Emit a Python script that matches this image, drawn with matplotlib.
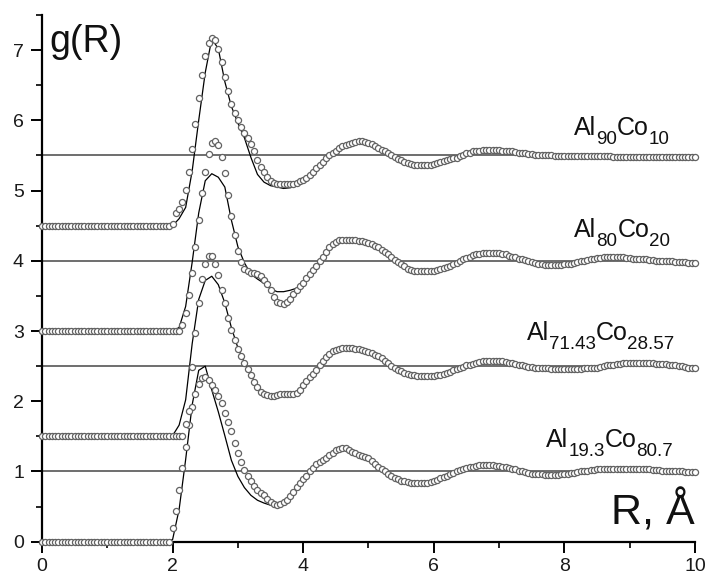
import numpy as np
import matplotlib
matplotlib.use("Agg")
import matplotlib.pyplot as plt
from matplotlib.ticker import MultipleLocator

plt.rcParams["font.family"] = ["Liberation Sans", "DejaVu Sans"]

# ---- data -------------------------------------------------------------
# composition labels: (element, subscript) pairs
alloys = [
    [("Al", "19.3"), ("Co", "80.7")],
    [("Al", "71.43"), ("Co", "28.57")],
    [("Al", "80"), ("Co", "20")],
    [("Al", "90"), ("Co", "10")],
]
offsets = [0.0, 1.5, 3.0, 4.5]

# experimental g(R), sampled every 0.05 A from 0 to 10 A
r_exp = np.round(np.arange(201) * 0.05, 2)
# model g(R), sampled every 0.1 A from 0 to 10 A
r_mod = np.round(np.arange(101) * 0.1, 1)

g_exp_al19 = [
    0.0, 0.0, 0.0, 0.0, 0.0, 0.0, 0.0, 0.0, 0.0, 0.0,
    0.0, 0.0, 0.0, 0.0, 0.0, 0.0, 0.0, 0.0, 0.0, 0.0,
    0.0, 0.0, 0.0, 0.0, 0.0, 0.0, 0.0, 0.0, 0.0, 0.0,
    0.0, 0.0, 0.0, 0.0, 0.0, 0.0, 0.0, 0.0, 0.0, 0.0,
    0.19, 0.43, 0.73, 1.05, 1.35, 1.66, 1.92, 2.11, 2.25, 2.33,
    2.35, 2.30, 2.23, 2.16, 2.07, 1.97, 1.83, 1.71, 1.57, 1.40,
    1.26, 1.13, 1.02, 0.93, 0.86, 0.79, 0.74, 0.70, 0.66, 0.61,
    0.57, 0.54, 0.52, 0.53, 0.56, 0.60, 0.65, 0.71, 0.78, 0.84,
    0.89, 0.94, 1.00, 1.05, 1.10, 1.13, 1.16, 1.19, 1.23, 1.27,
    1.30, 1.32, 1.33, 1.33, 1.31, 1.28, 1.26, 1.24, 1.22, 1.21,
    1.19, 1.15, 1.11, 1.07, 1.03, 1.00, 0.96, 0.93, 0.91, 0.89,
    0.87, 0.86, 0.85, 0.84, 0.83, 0.83, 0.83, 0.83, 0.84, 0.85,
    0.86, 0.88, 0.90, 0.92, 0.94, 0.96, 0.98, 1.00, 1.02, 1.04,
    1.05, 1.06, 1.07, 1.08, 1.09, 1.09, 1.09, 1.09, 1.09, 1.08,
    1.08, 1.07, 1.06, 1.05, 1.04, 1.03, 1.01, 1.00, 0.99, 0.98,
    0.97, 0.97, 0.96, 0.96, 0.95, 0.95, 0.95, 0.95, 0.95, 0.96,
    0.96, 0.97, 0.98, 0.98, 0.99, 1.00, 1.00, 1.01, 1.02, 1.02,
    1.03, 1.03, 1.03, 1.04, 1.04, 1.04, 1.04, 1.04, 1.04, 1.04,
    1.04, 1.04, 1.04, 1.04, 1.03, 1.03, 1.03, 1.02, 1.02, 1.02,
    1.01, 1.01, 1.01, 1.00, 1.00, 1.00, 1.00, 0.99, 0.99, 0.99,
    0.99,
]
g_exp_al71 = [
    0.0, 0.0, 0.0, 0.0, 0.0, 0.0, 0.0, 0.0, 0.0, 0.0,
    0.0, 0.0, 0.0, 0.0, 0.0, 0.0, 0.0, 0.0, 0.0, 0.0,
    0.0, 0.0, 0.0, 0.0, 0.0, 0.0, 0.0, 0.0, 0.0, 0.0,
    0.0, 0.0, 0.0, 0.0, 0.0, 0.0, 0.0, 0.0, 0.0, 0.0,
    0.0, 0.0, 0.0, 0.0, 0.18, 0.36, 0.99, 1.47, 1.90, 2.24,
    2.46, 2.57, 2.57, 2.46, 2.30, 2.09, 1.90, 1.68, 1.52, 1.37,
    1.25, 1.15, 1.05, 0.96, 0.87, 0.78, 0.70, 0.63, 0.60, 0.59,
    0.58, 0.58, 0.59, 0.60, 0.60, 0.61, 0.61, 0.61, 0.62, 0.66,
    0.73, 0.79, 0.84, 0.89, 0.95, 1.02, 1.08, 1.13, 1.17, 1.21,
    1.23, 1.25, 1.26, 1.26, 1.26, 1.26, 1.25, 1.24, 1.23, 1.21,
    1.20, 1.18, 1.16, 1.14, 1.11, 1.08, 1.04, 1.00, 0.97, 0.95,
    0.93, 0.90, 0.89, 0.88, 0.87, 0.86, 0.86, 0.86, 0.86, 0.86,
    0.86, 0.87, 0.88, 0.89, 0.90, 0.92, 0.94, 0.96, 0.97, 0.99,
    1.01, 1.02, 1.03, 1.05, 1.06, 1.07, 1.07, 1.08, 1.08, 1.08,
    1.08, 1.07, 1.06, 1.05, 1.04, 1.03, 1.02, 1.01, 1.00, 0.99,
    0.99, 0.98, 0.98, 0.97, 0.97, 0.97, 0.96, 0.96, 0.96, 0.96,
    0.96, 0.96, 0.96, 0.96, 0.96, 0.96, 0.97, 0.97, 0.97, 0.98,
    0.98, 0.99, 1.00, 1.01, 1.01, 1.02, 1.03, 1.03, 1.04, 1.04,
    1.04, 1.04, 1.04, 1.04, 1.04, 1.04, 1.04, 1.04, 1.03, 1.03,
    1.03, 1.03, 1.02, 1.02, 1.01, 1.00, 1.00, 0.99, 0.98, 0.98,
    0.97,
]
g_exp_al80 = [
    0.0, 0.0, 0.0, 0.0, 0.0, 0.0, 0.0, 0.0, 0.0, 0.0,
    0.0, 0.0, 0.0, 0.0, 0.0, 0.0, 0.0, 0.0, 0.0, 0.0,
    0.0, 0.0, 0.0, 0.0, 0.0, 0.0, 0.0, 0.0, 0.0, 0.0,
    0.0, 0.0, 0.0, 0.0, 0.0, 0.0, 0.0, 0.0, 0.0, 0.0,
    0.0, 0.0, 0.0, 0.09, 0.26, 0.51, 0.83, 1.20, 1.58, 1.96,
    2.26, 2.52, 2.68, 2.71, 2.65, 2.48, 2.25, 1.94, 1.64, 1.37,
    1.14, 0.98, 0.89, 0.85, 0.83, 0.82, 0.81, 0.78, 0.72, 0.67,
    0.58, 0.49, 0.42, 0.40, 0.39, 0.42, 0.46, 0.52, 0.58, 0.64,
    0.69, 0.76, 0.81, 0.87, 0.93, 1.00, 1.06, 1.13, 1.19, 1.24,
    1.27, 1.29, 1.30, 1.30, 1.30, 1.30, 1.29, 1.28, 1.28, 1.27,
    1.26, 1.24, 1.21, 1.19, 1.16, 1.13, 1.09, 1.05, 1.01, 0.98,
    0.95, 0.92, 0.89, 0.87, 0.86, 0.85, 0.85, 0.85, 0.85, 0.85,
    0.86, 0.87, 0.88, 0.90, 0.91, 0.93, 0.95, 0.97, 0.99, 1.02,
    1.04, 1.06, 1.08, 1.09, 1.10, 1.11, 1.11, 1.11, 1.11, 1.11,
    1.11, 1.10, 1.09, 1.07, 1.06, 1.05, 1.03, 1.02, 1.01, 0.99,
    0.98, 0.97, 0.96, 0.95, 0.94, 0.94, 0.94, 0.94, 0.94, 0.94,
    0.95, 0.96, 0.96, 0.97, 0.98, 0.99, 1.00, 1.01, 1.02, 1.03,
    1.04, 1.04, 1.05, 1.05, 1.05, 1.05, 1.05, 1.05, 1.05, 1.04,
    1.04, 1.03, 1.03, 1.02, 1.02, 1.02, 1.01, 1.01, 1.00, 1.00,
    1.00, 0.99, 0.99, 0.99, 0.98, 0.98, 0.98, 0.98, 0.97, 0.97,
    0.97,
]
g_exp_al90 = [
    0.0, 0.0, 0.0, 0.0, 0.0, 0.0, 0.0, 0.0, 0.0, 0.0,
    0.0, 0.0, 0.0, 0.0, 0.0, 0.0, 0.0, 0.0, 0.0, 0.0,
    0.0, 0.0, 0.0, 0.0, 0.0, 0.0, 0.0, 0.0, 0.0, 0.0,
    0.0, 0.0, 0.0, 0.0, 0.0, 0.0, 0.0, 0.0, 0.0, 0.0,
    0.02, 0.18, 0.24, 0.34, 0.51, 0.77, 1.09, 1.45, 1.82, 2.15,
    2.42, 2.60, 2.67, 2.65, 2.51, 2.33, 2.12, 1.92, 1.73, 1.60,
    1.50, 1.40, 1.32, 1.25, 1.17, 1.06, 0.94, 0.84, 0.76, 0.69,
    0.64, 0.61, 0.60, 0.60, 0.60, 0.60, 0.60, 0.60, 0.61, 0.63,
    0.65, 0.68, 0.72, 0.77, 0.82, 0.87, 0.91, 0.96, 1.01, 1.04,
    1.07, 1.10, 1.13, 1.15, 1.17, 1.18, 1.19, 1.20, 1.20, 1.19,
    1.18, 1.16, 1.14, 1.11, 1.08, 1.06, 1.03, 1.00, 0.98, 0.95,
    0.93, 0.91, 0.89, 0.88, 0.87, 0.87, 0.87, 0.87, 0.87, 0.87,
    0.88, 0.89, 0.90, 0.92, 0.93, 0.95, 0.96, 0.97, 0.99, 1.01,
    1.03, 1.04, 1.06, 1.07, 1.07, 1.08, 1.08, 1.08, 1.08, 1.08,
    1.08, 1.07, 1.07, 1.06, 1.06, 1.05, 1.04, 1.04, 1.03, 1.02,
    1.02, 1.01, 1.01, 1.00, 1.00, 1.00, 1.00, 0.99, 0.99, 0.99,
    0.99, 0.99, 0.99, 0.99, 0.99, 0.99, 0.99, 0.99, 0.99, 0.99,
    0.99, 0.99, 0.99, 0.99, 0.99, 0.98, 0.98, 0.98, 0.98, 0.98,
    0.98, 0.98, 0.98, 0.98, 0.98, 0.98, 0.98, 0.98, 0.98, 0.98,
    0.98, 0.98, 0.98, 0.98, 0.98, 0.98, 0.98, 0.98, 0.98, 0.98,
    0.98,
]

g_mod_al19 = [
    0.0, 0.0, 0.0, 0.0, 0.0, 0.0, 0.0, 0.0, 0.0, 0.0,
    0.0, 0.0, 0.0, 0.0, 0.0, 0.0, 0.0, 0.0, 0.0, 0.0,
    0.03, 0.46, 1.17, 1.95, 2.44, 2.50, 2.16, 1.85, 1.51, 1.16,
    0.93, 0.77, 0.66, 0.59, 0.55, 0.52, 0.52, 0.55, 0.63, 0.76,
    0.88, 0.98, 1.06, 1.14, 1.22, 1.28, 1.31, 1.30, 1.26, 1.22,
    1.18, 1.11, 1.03, 0.96, 0.91, 0.87, 0.85, 0.83, 0.83, 0.84,
    0.86, 0.91, 0.95, 0.99, 1.03, 1.05, 1.07, 1.09, 1.09, 1.09,
    1.08, 1.06, 1.04, 1.01, 0.99, 0.97, 0.96, 0.95, 0.95, 0.95,
    0.96, 0.98, 0.99, 1.00, 1.02, 1.03, 1.03, 1.04, 1.04, 1.04,
    1.04, 1.04, 1.03, 1.03, 1.02, 1.01, 1.01, 1.00, 1.00, 0.99,
    0.99,
]
g_mod_al71 = [
    0.0, 0.0, 0.0, 0.0, 0.0, 0.0, 0.0, 0.0, 0.0, 0.0,
    0.0, 0.0, 0.0, 0.0, 0.0, 0.0, 0.0, 0.0, 0.0, 0.0,
    0.01, 0.16, 0.52, 1.32, 1.95, 2.22, 2.28, 2.16, 1.90, 1.55,
    1.26, 1.05, 0.87, 0.71, 0.62, 0.59, 0.60, 0.61, 0.62, 0.63,
    0.72, 0.84, 0.95, 1.08, 1.17, 1.23, 1.26, 1.26, 1.25, 1.23,
    1.20, 1.16, 1.11, 1.04, 0.97, 0.92, 0.89, 0.87, 0.86, 0.86,
    0.86, 0.88, 0.91, 0.95, 0.98, 1.01, 1.04, 1.06, 1.07, 1.08,
    1.08, 1.06, 1.04, 1.02, 1.00, 0.99, 0.98, 0.97, 0.96, 0.96,
    0.96, 0.96, 0.96, 0.97, 0.97, 0.98, 1.00, 1.01, 1.03, 1.04,
    1.04, 1.04, 1.04, 1.04, 1.03, 1.03, 1.02, 1.01, 1.00, 0.98,
    0.97,
]
g_mod_al80 = [
    0.0, 0.0, 0.0, 0.0, 0.0, 0.0, 0.0, 0.0, 0.0, 0.0,
    0.0, 0.0, 0.0, 0.0, 0.0, 0.0, 0.0, 0.0, 0.0, 0.0,
    0.0, 0.05, 0.35, 0.98, 1.68, 2.14, 2.24, 2.19, 2.05, 1.58,
    1.20, 0.97, 0.81, 0.74, 0.68, 0.60, 0.56, 0.56, 0.58, 0.61,
    0.69, 0.81, 0.93, 1.06, 1.19, 1.27, 1.30, 1.30, 1.29, 1.28,
    1.26, 1.21, 1.16, 1.09, 1.01, 0.95, 0.89, 0.86, 0.85, 0.85,
    0.86, 0.88, 0.91, 0.95, 0.99, 1.04, 1.08, 1.10, 1.11, 1.11,
    1.11, 1.09, 1.06, 1.03, 1.01, 0.98, 0.96, 0.94, 0.94, 0.94,
    0.95, 0.96, 0.98, 1.00, 1.02, 1.04, 1.05, 1.05, 1.05, 1.05,
    1.04, 1.03, 1.02, 1.01, 1.00, 1.00, 0.99, 0.98, 0.98, 0.97,
    0.97,
]
g_mod_al90 = [
    0.0, 0.0, 0.0, 0.0, 0.0, 0.0, 0.0, 0.0, 0.0, 0.0,
    0.0, 0.0, 0.0, 0.0, 0.0, 0.0, 0.0, 0.0, 0.0, 0.0,
    0.0, 0.10, 0.26, 0.78, 1.50, 2.18, 2.66, 2.52, 2.05, 1.70,
    1.46, 1.25, 0.97, 0.73, 0.62, 0.57, 0.55, 0.53, 0.54, 0.57,
    0.61, 0.71, 0.82, 0.91, 1.01, 1.07, 1.13, 1.17, 1.19, 1.20,
    1.18, 1.14, 1.08, 1.02, 0.97, 0.93, 0.89, 0.87, 0.87, 0.87,
    0.88, 0.90, 0.93, 0.96, 0.99, 1.03, 1.06, 1.07, 1.08, 1.08,
    1.08, 1.07, 1.06, 1.04, 1.03, 1.02, 1.01, 1.00, 1.00, 0.99,
    0.99, 0.99, 0.99, 0.99, 0.99, 0.99, 0.99, 0.99, 0.98, 0.98,
    0.98, 0.98, 0.98, 0.98, 0.98, 0.98, 0.98, 0.98, 0.98, 0.98,
    0.98,
]

g_exp = [g_exp_al19, g_exp_al71, g_exp_al80, g_exp_al90]
g_mod = [g_mod_al19, g_mod_al71, g_mod_al80, g_mod_al90]

# left edge and baseline of each composition label, in data units
label_x = [7.72, 7.42, 8.15, 8.15]
label_y = [1.35, 2.87, 4.34, 5.79]

TEXT_COLOR = "#111111"


def formula_label(ax, x, y, pairs, size=18, sub_size=13.5, drop=6.5):
    """Chemical formula with element symbols and subscripted fractions."""
    prev = None
    for elem, frac in pairs:
        if prev is None:
            prev = ax.text(x, y, elem, fontsize=size, ha="left",
                           va="baseline", color=TEXT_COLOR)
        else:
            prev = ax.annotate(elem, xy=(1, y), xycoords=(prev, "data"),
                               xytext=(0, 0), textcoords="offset points",
                               fontsize=size, ha="left", va="baseline",
                               color=TEXT_COLOR)
        prev = ax.annotate(frac, xy=(1, y), xycoords=(prev, "data"),
                           xytext=(0, -drop), textcoords="offset points",
                           fontsize=sub_size, ha="left", va="baseline",
                           color=TEXT_COLOR)


# ---- figure -----------------------------------------------------------
fig = plt.figure(figsize=(7.07, 5.77), dpi=100)
ax = fig.add_axes([0.0594, 0.0612, 0.9236, 0.9128])

for k in range(4):
    off = offsets[k]
    ax.axhline(off + 1.0, color="#555555", lw=1.2, zorder=1)
    ax.plot(r_mod, np.asarray(g_mod[k]) + off, color="black", lw=0.9,
            zorder=2)
    ax.plot(r_exp, np.asarray(g_exp[k]) + off, ls="none", marker="o",
            ms=4.4, mew=0.9, mfc="white", mec="#626262", zorder=3,
            clip_on=False)
    formula_label(ax, label_x[k], label_y[k], alloys[k])

ax.text(0.12, 6.98, "g(R)", ha="left", va="baseline", fontsize=27,
        color=TEXT_COLOR)
ax.text(10.0, 0.24, "R, Å", ha="right", va="baseline", fontsize=31,
        color=TEXT_COLOR)

ax.set_xlim(0, 10)
ax.set_ylim(0, 7.5)
ax.xaxis.set_major_locator(MultipleLocator(2))
ax.xaxis.set_minor_locator(MultipleLocator(1))
ax.yaxis.set_major_locator(MultipleLocator(1))
ax.yaxis.set_minor_locator(MultipleLocator(0.5))
for side in ("top", "right"):
    ax.spines[side].set_visible(False)
for side in ("left", "bottom"):
    ax.spines[side].set_linewidth(1.6)
    ax.spines[side].set_zorder(2.5)
ax.tick_params(which="major", direction="out", length=8, width=1.4,
               labelsize=14, colors="black")
ax.tick_params(axis="x", which="major", pad=3.5)
ax.tick_params(axis="y", which="major", pad=5)
ax.tick_params(which="minor", direction="out", length=4, width=1.2)
for lab in ax.get_xticklabels() + ax.get_yticklabels():
    lab.set_color("#1a1a1a")

fig.savefig("out.png", dpi=100, facecolor="white")
